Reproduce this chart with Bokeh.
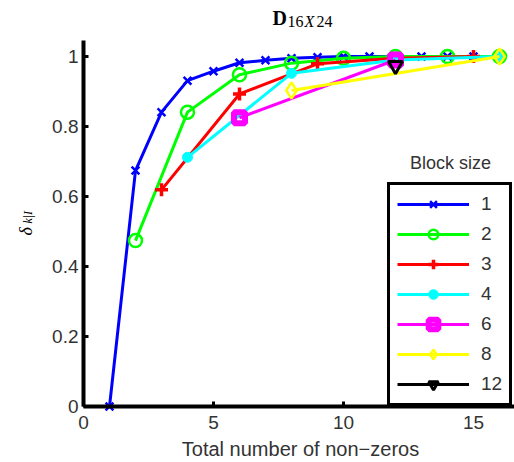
import math
from bokeh.plotting import figure
from bokeh.models import Range1d, Legend, LegendItem, Label, FixedTicker
from bokeh.embed import file_html
from bokeh.resources import INLINE

# ---- data ----
x_b1 = [1, 2, 3, 4, 5, 6, 7, 8, 9, 10, 11, 12, 13, 14, 15, 16]
y_b1 = [0.0, 0.674, 0.841, 0.931, 0.958, 0.982, 0.989, 0.995, 0.998, 1.0, 1.0, 1.0, 1.0, 1.0, 1.0, 1.0]
x_b2 = [2, 4, 6, 8, 10, 12, 14, 16]
y_b2 = [0.474, 0.841, 0.948, 0.981, 0.995, 1.0, 1.0, 1.0]
x_b3 = [3, 6, 9, 12, 15]
y_b3 = [0.619, 0.893, 0.979, 0.995, 1.0]
x_b4 = [4, 8, 12, 16]
y_b4 = [0.712, 0.952, 0.99, 1.0]
x_b6 = [6, 12]
y_b6 = [0.825, 0.99]
x_b8 = [8, 16]
y_b8 = [0.903, 1.0]
x_b12 = [12]
y_b12 = [0.974]

block_labels = ["1", "2", "3", "4", "6", "8", "12"]
x_ticks = [0, 5, 10, 15]
y_ticks = [0, 0.2, 0.4, 0.6, 0.8, 1.0]
y_tick_labels = ["0", "0.2", "0.4", "0.6", "0.8", "1"]

W, H = 514, 462
# axes geometry (pixels): origin of the data axes and scale
OX, OY = 83, 406          # canvas px of (x=0, y=0)
KX, KY = 26.0, 350.0      # px per data unit
X_END, Y_END = (W - OX) / KX, 1.046

p = figure(width=W, height=H, output_backend="svg", toolbar_location=None,
           x_range=Range1d(-OX / KX, (W - OX) / KX),
           y_range=Range1d(-(H - OY) / KY, OY / KY),
           min_border_left=0, min_border_right=0, min_border_top=0, min_border_bottom=0)
p.outline_line_color = None
p.xgrid.visible = False
p.ygrid.visible = False
p.background_fill_color = "white"
p.border_fill_color = "white"

for ax in (p.xaxis[0], p.yaxis[0]):
    ax.fixed_location = 0
    ax.axis_line_width = 4
    ax.axis_line_color = "black"
    ax.major_tick_in = 5
    ax.major_tick_out = 0
    ax.major_tick_line_width = 3
    ax.major_tick_line_color = "black"
    ax.minor_tick_line_color = None
    ax.major_label_text_font = "Liberation Sans"
    ax.major_label_text_font_size = "19px"
    ax.major_label_text_color = "#333333"

p.xaxis.bounds = (0, X_END)
p.yaxis.bounds = (0, Y_END)
p.xaxis.ticker = FixedTicker(ticks=x_ticks)
p.yaxis.ticker = FixedTicker(ticks=y_ticks)
p.yaxis.major_label_overrides = {t: s for t, s in zip(y_ticks, y_tick_labels)}
p.xaxis.major_label_standoff = 9
p.yaxis.major_label_standoff = 5

LW = 3
series = [
    (x_b1, y_b1, "#0000ff", dict(marker="x", size=11, line_width=2.5)),
    (x_b2, y_b2, "#00ff00", dict(marker="circle", size=13, fill_color=None, line_width=2.5)),
    (x_b3, y_b3, "#ff0000", dict(marker="cross", size=13, line_width=3.5)),
    (x_b4, y_b4, "#00ffff", dict(marker="circle", size=10, line_width=1)),
    (x_b6, y_b6, "#ff00ff", dict(marker="square", size=11, fill_color=None, line_width=6)),
    (x_b8, y_b8, "#ffff00", dict(marker="diamond", size=16, fill_color=None, line_width=2.5)),
    (x_b12, y_b12, "#000000", dict(marker="inverted_triangle", size=14, fill_color=None, line_width=3)),
]

items = []
for (xs, ys, col, mk), lab_ in zip(series, block_labels):
    ln = p.line(xs, ys, line_color=col, line_width=LW)
    kw = dict(mk)
    fc = kw.pop("fill_color", col)
    sc = p.scatter(xs, ys, line_color=col, fill_color=fc, **kw)
    items.append(LegendItem(label=lab_, renderers=[ln, sc]))

legend = Legend(items=items, location=(387, H - OY), orientation="vertical",
                glyph_width=72, glyph_height=24, spacing=6, padding=7, margin=0,
                label_standoff=12, label_text_font="Liberation Sans",
                label_text_font_size="19px", label_text_color="#333333",
                border_line_color="black", border_line_width=3.5, border_line_alpha=1.0,
                background_fill_color="white", background_fill_alpha=1.0)
p.add_layout(legend)

def lab(text, px, py, size, font="Liberation Sans", style="normal", align="left",
        angle=0.0, color="#333333"):
    p.add_layout(Label(x=px, y=H - py, x_units="screen", y_units="screen", text=text,
                       text_font=font, text_font_size=size, text_font_style=style,
                       text_align=align, text_baseline="alphabetic", angle=angle,
                       text_color=color))

# title D_{16X24}
lab("D", 272, 17, "20px", font="Liberation Serif", style="bold", color="black")
lab("16", 287, 21, "16px", font="Liberation Serif", color="black")
lab("X", 304, 21, "16px", font="Liberation Serif", style="italic", color="black")
lab("24", 316, 21, "16px", font="Liberation Serif", color="black")

# y label delta_{k|I}
lab("\u03b4", 25, 235, "18px", font="Liberation Serif", style="italic", angle=math.pi / 2, color="black")
lab("k|I", 27, 223, "12px", font="Liberation Serif", style="italic", angle=math.pi / 2, color="black")

# x label and legend title
lab("Total number of non\u2212zeros", 300, 448, "20px", align="center")
lab("Block size", 450, 162, "18px", align="center")

open("out.html", "w").write(file_html(p, INLINE))
